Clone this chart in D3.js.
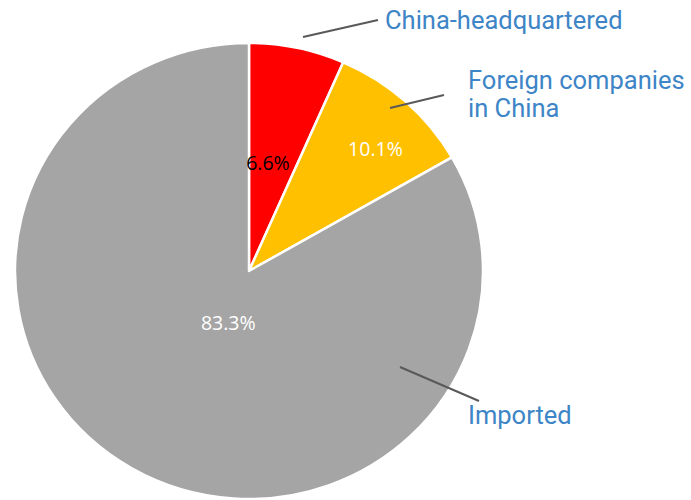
<!DOCTYPE html>
<html>
<head>
<meta charset="utf-8">
<script src="https://cdn.jsdelivr.net/npm/d3@7"></script>
<style>
  body { margin: 0; background: #fff; }
  #chart-area { width: 691px; height: 500px; }
  .callout { font-family: Roboto, "Noto Sans", sans-serif; font-size: 25.5px; fill: #3d85c6; }
  .pct { font-family: "Open Sans", "Noto Sans", sans-serif; font-size: 19.5px; text-anchor: middle; }
</style>
</head>
<body>
<div id="chart-area"></div>
<script>
/* global d3 */
const categories = ["China-headquartered", "Foreign companies in China", "Imported"];
const shares = [6.6, 10.1, 83.3];
const sliceColors = ["#ff0000", "#ffc000", "#a5a5a5"];
const pctColors = ["#000000", "#ffffff", "#ffffff"];

let width = 691, height = 500;
let cx = 249, cy = 271, rx = 234, ry = 228;

let svg = d3
  .select("#chart-area")
  .append("svg")
  .attr("width", width)
  .attr("height", height);

let data = categories.map(function(c, i) {
  return { name: c, value: shares[i] };
});

let pie = d3.pie().sort(null).value(function(d) { return d.value; });
let arc = d3.arc().innerRadius(0).outerRadius(rx);

// pie is slightly squashed vertically in the reference
let g = svg
  .append("g")
  .attr("transform", "translate(" + cx + "," + cy + ") scale(1," + ry / rx + ")");

let arcs = pie(data);

g.selectAll(".slice")
  .data(arcs)
  .enter()
  .append("path")
  .attr("class", "slice")
  .attr("d", arc)
  .attr("fill", function(d, i) { return sliceColors[i]; })
  .attr("stroke", "#fff")
  .attr("stroke-width", 2.5)
  .attr("stroke-linejoin", "round");

// percent labels: polar placement (angle, radius) tuned per slice
let pctPlace = [
  { a: 0.17, r: 112 },
  { a: 0.79, r: 178 },
  { a: -2.77, r: 57 }
];

svg.selectAll(".pct")
  .data(arcs)
  .enter()
  .append("text")
  .attr("class", "pct")
  .attr("x", function(d, i) { return cx + Math.sin(pctPlace[i].a) * pctPlace[i].r; })
  .attr("y", function(d, i) { return cy - Math.cos(pctPlace[i].a) * pctPlace[i].r * ry / rx + 7; })
  .attr("fill", function(d, i) { return pctColors[i]; })
  .text(function(d) { return d.data.value.toFixed(1) + "%"; });

// callouts
let leaders = [
  [[303, 37], [378, 20]],
  [[390, 108], [444, 95]],
  [[400, 367], [479, 401]]
];

svg.selectAll(".leader")
  .data(leaders)
  .enter()
  .append("line")
  .attr("class", "leader")
  .attr("x1", function(d) { return d[0][0]; })
  .attr("y1", function(d) { return d[0][1]; })
  .attr("x2", function(d) { return d[1][0]; })
  .attr("y2", function(d) { return d[1][1]; })
  .attr("stroke", "#595959")
  .attr("stroke-width", 2);

svg.append("text").attr("class", "callout").attr("x", 385).attr("y", 29).text(categories[0]);
let t2 = svg.append("text").attr("class", "callout").attr("x", 468).attr("y", 89);
t2.append("tspan").attr("x", 468).text("Foreign companies");
t2.append("tspan").attr("x", 468).attr("dy", 28).text("in China");
svg.append("text").attr("class", "callout").attr("x", 468).attr("y", 424).text(categories[2]);
</script>
</body>
</html>
